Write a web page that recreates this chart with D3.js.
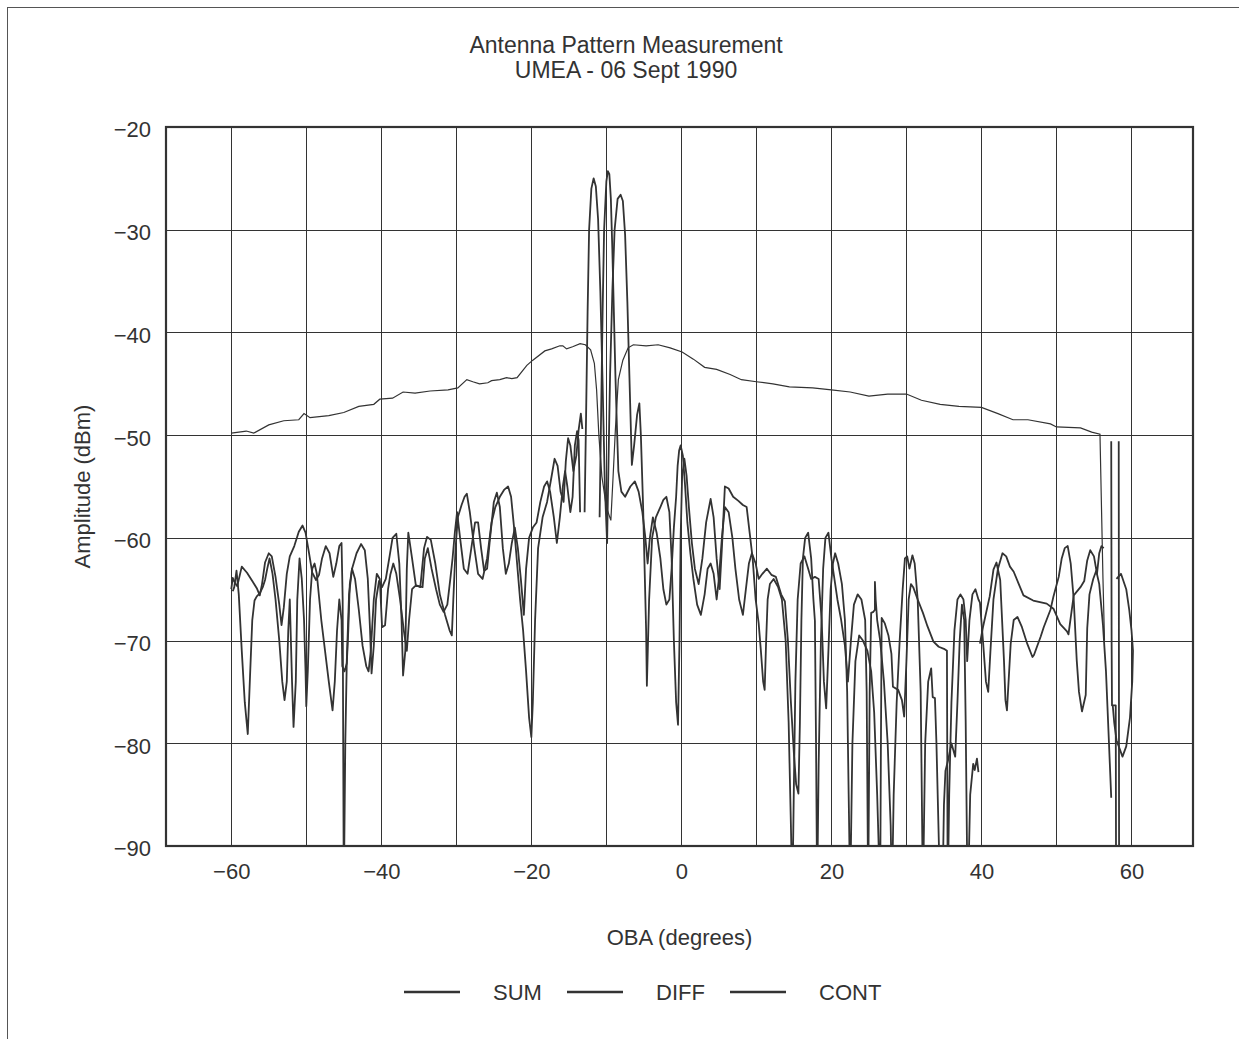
<!DOCTYPE html>
<html>
<head>
<meta charset="utf-8">
<script src="https://cdn.jsdelivr.net/npm/d3@7"></script>
<style>
  body { margin: 0; background: #fff; }
  text { font-family: "Liberation Sans", Arial, sans-serif; fill: #333; }
</style>
</head>
<body>
<div id="chart"></div>
<script>
// Plot constants
const WIDTH = 1239;
const HEIGHT = 1039;
const PLOT = { left: 166, top: 127, right: 1193, bottom: 846 };

// Data
const titleLines = ["Antenna Pattern Measurement", "UMEA - 06 Sept 1990"];
const xTicks = [-60, -40, -20, 0, 20, 40, 60];
const xGrid = [-60, -50, -40, -30, -20, -10, 0, 10, 20, 30, 40, 50, 60];
const yTicks = [-20, -30, -40, -50, -60, -70, -80, -90];
const seriesNames = ["SUM", "DIFF", "CONT"];

// [OBA degrees, amplitude dBm]; null = gap in the trace, values below -90 run off the plot
const sumData = [
  [-60.0, -65.0], [-59.8, -63.9], [-59.5, -64.4], [-59.2, -64.7], [-58.6, -62.8], [-57.9, -63.4],
  [-57.2, -64.2], [-56.6, -64.9], [-56.2, -65.6], [-55.9, -64.5], [-55.5, -62.4], [-55.0, -61.5],
  [-54.6, -61.8], [-54.1, -63.8], [-53.6, -66.5], [-53.3, -68.5], [-53.0, -66.8], [-52.6, -63.5],
  [-52.2, -61.8], [-51.6, -60.8], [-51.0, -59.4], [-50.5, -58.8], [-50.1, -59.5], [-49.7, -61.2],
  [-49.2, -63.4], [-48.7, -64.1], [-48.3, -63.6], [-47.9, -62.0], [-47.4, -60.8], [-46.9, -61.5],
  [-46.4, -63.8], [-46.0, -62.5], [-45.6, -60.8], [-45.3, -60.5], [-45.15, -66], [-45.0, -95],
  [-44.8, -80], [-44.6, -72], [-44.3, -65.5], [-43.9, -63.0], [-43.3, -61.5], [-42.7, -60.6],
  [-42.2, -61.2], [-41.8, -64], [-41.5, -69], [-41.3, -73.2], [-41.0, -70.5], [-40.7, -66],
  [-40.3, -64.2], [-39.9, -64.8], [-39.4, -64.0], [-38.9, -61.8], [-38.5, -60.0], [-38.0, -59.6],
  [-37.6, -62.5], [-37.3, -68], [-37.1, -73.4], [-36.8, -71], [-36.6, -63], [-36.4, -59.5],
  [-35.9, -62.0], [-35.4, -64.6], [-34.8, -64.8], [-34.3, -61], [-33.9, -59.9], [-33.4, -60.2],
  [-32.8, -62.5], [-32.2, -65.5], [-31.5, -67.5], [-30.9, -69.0], [-30.6, -69.5], [-30.4, -66],
  [-30.1, -61], [-29.8, -58], [-29.3, -56.8], [-28.9, -56.0], [-28.6, -55.7], [-28.2, -57.5],
  [-27.6, -61], [-27.1, -63.5], [-26.5, -64], [-25.9, -62], [-25.3, -58.5], [-24.8, -57],
  [-24.2, -56], [-23.6, -55.3], [-23.1, -55.0], [-22.7, -56], [-22.3, -59], [-21.9, -62.5],
  [-21.5, -66], [-21.1, -69], [-20.7, -73], [-20.3, -77.5], [-20.0, -79.4], [-19.8, -76],
  [-19.5, -68], [-19.1, -61], [-18.5, -58], [-17.9, -56.5], [-17.3, -54], [-16.9, -52.3],
  [-16.5, -53], [-16.1, -55.5], [-15.7, -56.5], [-15.4, -52.5], [-15.1, -50.3], [-14.8, -51],
  [-14.4, -53.5], [-14.0, -52], [-13.7, -49.5], [-13.4, -47.9], [-13.2, -49.4],
  null,
  [-10.9, -58], [-10.7, -48], [-10.5, -38], [-10.3, -30], [-10.0, -25.3], [-9.8, -24.3],
  [-9.6, -24.6], [-9.4, -27], [-9.2, -32], [-9.0, -38], [-8.8, -44], [-8.6, -49],
  [-8.4, -53.5], [-8.0, -55.5], [-7.5, -56], [-6.8, -55], [-6.2, -54.5], [-5.7, -55.5],
  [-5.2, -57.5], [-4.8, -60], [-4.5, -62.5], [-4.2, -60], [-3.8, -58], [-3.3, -59.5],
  [-2.8, -62], [-2.4, -65], [-2.0, -66.5], [-1.6, -66], [-1.3, -63], [-1.0, -59],
  [-0.7, -56], [-0.5, -53], [-0.3, -51.5], [-0.1, -51.0], [0.2, -52], [0.5, -55],
  [0.8, -58.5], [1.2, -61.5], [1.6, -64], [2.1, -66.5], [2.6, -67.5], [3.1, -65.5],
  [3.5, -63], [3.9, -62.5], [4.3, -63.5], [4.7, -66], [5.0, -64], [5.4, -60],
  [5.8, -57], [6.3, -57.5], [6.8, -60], [7.2, -63], [7.7, -66], [8.2, -67.5],
  [8.6, -65], [9.0, -62.5], [9.4, -61.5], [9.9, -62.5], [10.3, -64], [10.8, -63.5],
  [11.4, -63], [12.0, -63.6], [12.6, -63.8], [13.3, -65.5], [13.8, -66.2], [14.2, -70],
  [14.6, -76], [15.0, -81], [15.3, -84], [15.6, -84.9], [15.8, -78], [16.0, -68],
  [16.2, -62], [16.5, -60], [16.9, -59.5], [17.3, -62], [17.6, -66], [17.8, -68.1],
  [17.95, -80], [18.1, -95], [18.3, -82], [18.6, -70], [18.9, -63], [19.2, -60],
  [19.6, -59.5], [20.0, -62], [20.4, -64], [20.8, -66], [21.3, -68], [21.8, -70.5],
  [22.2, -74], [22.6, -70], [23.0, -66.5], [23.5, -65.5], [24.0, -66], [24.5, -68],
  [24.7, -75], [24.9, -95], [25.1, -75], [25.3, -67.3], [25.6, -67.2], [25.8, -67],
  [25.8, -64.3], [25.9, -66], [26.1, -68], [26.5, -70], [27.0, -74], [27.5, -80],
  [27.9, -88], [28.07, -95], [28.3, -85], [28.7, -76], [29.1, -70], [29.5, -65],
  [29.8, -62], [30.1, -61.8], [30.4, -63], [30.8, -61.7], [31.1, -62.5], [31.5, -66],
  [31.9, -75], [32.2, -95], [32.5, -80], [32.9, -74], [33.3, -72.7], [33.5, -75.5],
  [33.8, -75.6], [34.0, -80], [34.4, -92], [34.8, -95], [35.0, -86], [35.2, -82.7],
  [35.6, -81.5], [36.0, -80], [36.5, -81.3], [36.8, -76], [37.1, -70], [37.4, -66.5],
  [37.7, -68], [37.9, -78], [38.1, -92], [38.2, -95], [38.5, -85], [38.9, -82],
  [39.1, -82.6], [39.4, -81.5], [39.6, -82.8],
  null,
  [39.8, -70.3], [40.2, -68.7], [41.1, -65.7], [41.6, -63.1], [42.0, -62.4], [42.5, -64.1],
  [43.0, -71.9], [43.2, -75.8], [43.4, -76.8], [43.9, -70.3], [44.3, -68.0], [44.8, -67.7],
  [45.4, -68.7], [46.1, -70.3], [46.8, -71.6], [47.0, -71.4], [47.4, -70.6], [47.9, -69.6],
  [48.3, -68.7], [49.2, -67.0], [49.6, -65.7], [50.3, -63.8], [50.7, -62], [51.1, -61],
  [51.5, -60.8], [51.9, -62.5], [52.3, -66], [52.7, -71.9], [53.0, -75], [53.4, -76.9],
  [53.9, -75.3], [54.1, -68.8], [54.4, -65.5], [54.9, -64], [55.3, -63.2], [55.7, -64.5],
  [56.2, -68.5], [56.6, -73], [57.0, -80], [57.3, -85.3],
  null,
  [57.3, -50.6], [57.35, -70], [57.4, -76.3], [57.9, -76.3], [57.95, -95],
  null,
  [58.3, -50.6], [58.35, -95]
];

const diffData = [
  [-59.8, -65.2], [-59.6, -64.8], [-59.3, -63.2], [-59.0, -65.5], [-58.6, -71], [-58.2, -76],
  [-57.8, -79.1], [-57.5, -73.5], [-57.2, -68], [-56.9, -66.1], [-56.6, -65.7], [-56.2, -65.4],
  [-55.8, -64.8], [-55.5, -64.1], [-55.2, -63.0], [-54.9, -62.0], [-54.5, -63.5], [-54.1, -66],
  [-53.6, -70], [-53.2, -74], [-52.9, -75.8], [-52.6, -74], [-52.4, -69], [-52.2, -66],
  [-51.9, -74], [-51.7, -78.4], [-51.4, -74], [-51.2, -66], [-50.9, -62], [-50.6, -64],
  [-50.3, -68], [-50.1, -73], [-50.0, -76.4], [-49.8, -73], [-49.5, -66], [-49.2, -63],
  [-48.9, -62.5], [-48.6, -63.5], [-48.4, -65], [-48.0, -68], [-47.5, -71], [-47.0, -74],
  [-46.5, -76.8], [-46.2, -74], [-45.9, -69], [-45.6, -66], [-45.3, -68], [-45.2, -72.5],
  [-44.9, -73], [-44.6, -72.2], [-44.4, -69], [-44.2, -64.5], [-43.9, -63], [-43.5, -64],
  [-43.0, -67], [-42.5, -70.5], [-42.0, -72.5], [-41.7, -73], [-41.4, -71], [-41.0, -66],
  [-40.6, -63.5], [-40.2, -64.0], [-39.9, -68.7], [-39.5, -68.5], [-39.1, -65], [-38.8, -63.6],
  [-38.4, -62.5], [-38.0, -63.5], [-37.5, -66], [-37.0, -69], [-36.6, -71], [-36.3, -68],
  [-35.9, -65], [-35.5, -64.7], [-35.0, -64.7], [-34.5, -64.8], [-34.2, -62], [-33.8, -61.0],
  [-33.3, -63], [-32.7, -65], [-32.2, -66.5], [-31.7, -67.2], [-31.2, -66.5], [-30.8, -64],
  [-30.5, -62], [-30.2, -59.5], [-29.9, -57.5], [-29.5, -60], [-29.0, -63], [-28.5, -63.5],
  [-28.0, -61], [-27.5, -58.5], [-27.1, -58.5], [-26.7, -61], [-26.3, -63.2], [-25.9, -63.0],
  [-25.5, -60], [-25.0, -56.5], [-24.6, -55.6], [-24.2, -57], [-23.8, -61], [-23.4, -63.5],
  [-23.0, -62.5], [-22.6, -60.5], [-22.2, -59], [-21.8, -61], [-21.4, -64], [-21.0, -67.5],
  [-20.7, -63], [-20.3, -60], [-19.8, -59], [-19.3, -58.5], [-18.8, -56.5], [-18.3, -55],
  [-17.9, -54.5], [-17.5, -55.5], [-17.0, -58], [-16.6, -60.5], [-16.2, -58], [-15.8, -55],
  [-15.5, -53.5], [-15.2, -55], [-14.8, -57.5], [-14.5, -56], [-14.2, -51], [-13.9, -49.6],
  [-13.7, -50.5], [-13.5, -57.5],
  null,
  [-12.9, -57.5], [-12.7, -48], [-12.5, -38], [-12.3, -30], [-12.0, -26], [-11.7, -25.0],
  [-11.4, -25.8], [-11.1, -29], [-10.8, -36], [-10.5, -45], [-10.2, -55], [-9.9, -60.5],
  [-9.7, -52], [-9.5, -44], [-9.2, -36], [-8.9, -30], [-8.5, -27], [-8.1, -26.6],
  [-7.8, -27.2], [-7.5, -30.5], [-7.2, -37], [-6.9, -45], [-6.6, -52.9], [-6.3, -51],
  [-5.9, -48], [-5.6, -46.9], [-5.4, -50], [-5.1, -57], [-4.9, -63], [-4.7, -69],
  [-4.6, -74.4], [-4.3, -66], [-3.9, -60], [-3.4, -58], [-2.8, -57], [-2.4, -56.3],
  [-2.0, -56.0], [-1.6, -57.5], [-1.3, -62], [-1.0, -70], [-0.7, -76], [-0.45, -78.2],
  [-0.25, -70], [-0.1, -60], [0.1, -54], [0.4, -52.3], [0.7, -54], [1.0, -57],
  [1.4, -60.5], [1.8, -63], [2.3, -64.5], [2.8, -62], [3.3, -58.5], [3.9, -56.2],
  [4.3, -58], [4.7, -62], [5.1, -65], [5.4, -61], [5.8, -55.0], [6.3, -55.2],
  [6.9, -56], [7.6, -56.4], [8.2, -56.8], [8.7, -57.0], [9.1, -59.5], [9.5, -62],
  [9.9, -66], [10.3, -68.3], [10.6, -71], [10.9, -74], [11.1, -74.8], [11.3, -70],
  [11.5, -66], [11.8, -64.5], [12.3, -64], [12.9, -64.8], [13.4, -66], [13.9, -70],
  [14.3, -78], [14.6, -88], [14.8, -95], [15.0, -84], [15.2, -74], [15.5, -66],
  [15.9, -62.5], [16.4, -61.8], [16.9, -63], [17.3, -64], [17.8, -63.8], [18.3, -64],
  [18.7, -68], [19.0, -74], [19.3, -76.6], [19.6, -71], [19.9, -65], [20.2, -62.5],
  [20.5, -61.5], [20.9, -62.5], [21.4, -64.5], [21.8, -68], [22.1, -75], [22.3, -85],
  [22.5, -95], [22.8, -80], [23.2, -72], [23.7, -69.5], [24.2, -70], [24.8, -71],
  [25.3, -73], [25.7, -77], [26.1, -85], [26.5, -95], [26.6, -80], [26.7, -67.8],
  [27.1, -68.3], [27.6, -69.5], [28.0, -71.3], [28.2, -74.5], [28.9, -74.8], [29.4, -75.8],
  [29.7, -77.4], [30.0, -72], [30.3, -66], [30.6, -64.5], [30.9, -64.8], [31.5, -66],
  [32.2, -67.3], [32.8, -68.6], [33.6, -70.1], [34.3, -70.6], [35.0, -70.8], [35.4, -71.0],
  [35.5, -95], [35.7, -85], [36.0, -76], [36.4, -69], [36.8, -66], [37.2, -65.5],
  [37.6, -66], [37.9, -68], [38.1, -72], [38.4, -68], [38.8, -65.5], [39.2, -65],
  [39.6, -66], [39.8, -66.3], [40.2, -70], [40.6, -74], [40.9, -75], [41.2, -71],
  [41.6, -66], [42.2, -63], [42.8, -61.5], [43.3, -61.8], [43.8, -62.8], [44.3, -63.3],
  [45.2, -64.9], [45.6, -65.6], [46.9, -66.1], [48.7, -66.4], [49.6, -66.9], [50.5, -68.4],
  [51.4, -69.1], [51.6, -69.4], [52.3, -65.6], [53.2, -64.8], [53.7, -64.2], [54.1, -62.2],
  [54.5, -61.2], [55.0, -61.8], [55.4, -63.5], [55.7, -61.5], [56.0, -60.8], [56.3, -61.0],
  null,
  [58.0, -64.0], [58.6, -63.5], [59.3, -65], [59.7, -67], [60.0, -69], [60.2, -71],
  [60.1, -74], [59.8, -77.5], [59.3, -80.3], [58.8, -81.3], [58.4, -80.5], [58.0, -79.7],
  [57.7, -78], [57.5, -76.3]
];

const contData = [
  [-60, -49.8], [-58, -49.6], [-57, -49.8], [-55, -49.0], [-53, -48.6], [-51, -48.5],
  [-50.3, -47.9], [-49.5, -48.3], [-47, -48.1], [-45, -47.8], [-43, -47.2], [-41, -47.0],
  [-40.2, -46.5], [-38.5, -46.4], [-37.1, -45.8], [-35.5, -45.9], [-33.5, -45.7],
  [-31.1, -45.6], [-29.8, -45.4], [-28.6, -44.6], [-27.8, -44.8], [-26.9, -45.0],
  [-25.8, -44.9], [-25.3, -44.7], [-24.2, -44.6], [-23.3, -44.4], [-22.6, -44.5],
  [-21.9, -44.4], [-20.6, -43.2], [-19.8, -42.7], [-18.2, -41.8], [-17.3, -41.6],
  [-16.2, -41.3], [-15.8, -41.3], [-15.3, -41.6], [-14.5, -41.4], [-13.5, -41.1],
  [-12.8, -41.2], [-12.1, -41.7], [-11.6, -43], [-11.3, -45.6], [-11.0, -50],
  [-10.6, -54], [-10.0, -57], [-9.4, -58.3], [-9.1, -54], [-8.8, -49.5],
  [-8.4, -44.6], [-7.8, -42.7], [-7.1, -41.5], [-6.4, -41.2], [-4.7, -41.3], [-3.1, -41.2],
  [-1.5, -41.5], [0.1, -41.9], [1.6, -42.6], [3.1, -43.4], [4.7, -43.6], [6.5, -44.1],
  [8.0, -44.6], [10.0, -44.8], [12.2, -45.0], [14.4, -45.3], [17.5, -45.4],
  [20.0, -45.6], [22.5, -45.8], [25, -46.2], [27.5, -46.0], [30, -46.0], [32, -46.6],
  [34.5, -47.0], [37, -47.2], [40, -47.3], [42.2, -47.9], [44.2, -48.5], [46.2, -48.5],
  [49.2, -48.9], [50, -49.2], [53.2, -49.3], [54.7, -49.7], [55.8, -49.9], [56.0, -57],
  [56.2, -64], [56.4, -70]
];

const svg = d3.select("#chart")
  .append("svg")
  .attr("width", WIDTH)
  .attr("height", HEIGHT);

// outer frame (cut by the picture edge on right and bottom)
svg.append("rect")
  .attr("x", 7.5).attr("y", 7.5)
  .attr("width", 1400).attr("height", 1200)
  .attr("fill", "none")
  .attr("stroke", "#555")
  .attr("stroke-width", 1);

// scales
const x = d3.scaleLinear().domain([-68.7, 68.2]).range([PLOT.left, PLOT.right]);
const y = d3.scaleLinear().domain([-90, -20]).range([PLOT.bottom, PLOT.top]);

// title
svg.append("g")
  .selectAll("text")
  .data(titleLines)
  .join("text")
  .attr("x", 626)
  .attr("y", (d, i) => 53 + i * 25)
  .attr("text-anchor", "middle")
  .attr("font-size", "23px")
  .text(d => d);

// grid
const grid = svg.append("g").attr("stroke", "#333").attr("stroke-width", 1);
grid.selectAll(".vgrid")
  .data(xGrid)
  .join("line")
  .attr("class", "vgrid")
  .attr("x1", d => Math.round(x(d)) + 0.5).attr("x2", d => Math.round(x(d)) + 0.5)
  .attr("y1", PLOT.top).attr("y2", PLOT.bottom);
grid.selectAll(".hgrid")
  .data(yTicks)
  .join("line")
  .attr("class", "hgrid")
  .attr("x1", PLOT.left).attr("x2", PLOT.right)
  .attr("y1", d => Math.round(y(d)) + 0.5).attr("y2", d => Math.round(y(d)) + 0.5);

// series
svg.append("clipPath").attr("id", "clip")
  .append("rect")
  .attr("x", PLOT.left).attr("y", PLOT.top)
  .attr("width", PLOT.right - PLOT.left).attr("height", PLOT.bottom - PLOT.top);

const line = d3.line()
  .defined(d => d !== null)
  .x(d => x(d[0]))
  .y(d => y(d[1]));
const lines = svg.append("g").attr("clip-path", "url(#clip)");
[sumData, diffData].forEach(s => {
  lines.append("path")
    .datum(s)
    .attr("d", line)
    .attr("fill", "none")
    .attr("stroke", "#333")
    .attr("stroke-width", 1.8)
    .attr("stroke-linejoin", "round");
});
lines.append("path")
  .datum(contData)
  .attr("d", line)
  .attr("fill", "none")
  .attr("stroke", "#333")
  .attr("stroke-width", 1.2);

// plot frame
svg.append("rect")
  .attr("x", PLOT.left).attr("y", PLOT.top)
  .attr("width", PLOT.right - PLOT.left).attr("height", PLOT.bottom - PLOT.top)
  .attr("fill", "none")
  .attr("stroke", "#333")
  .attr("stroke-width", 2.2);

// axes
const xAxis = d3.axisBottom(x).tickValues(xTicks).tickSize(0).tickPadding(17);
svg.append("g")
  .attr("transform", `translate(0,${PLOT.bottom})`)
  .call(xAxis)
  .call(g => g.select(".domain").remove())
  .selectAll("text")
  .attr("font-size", "22px")
  .attr("font-family", "Liberation Sans, Arial, sans-serif")
  .attr("fill", "#333");

const yAxis = d3.axisLeft(y).tickValues(yTicks).tickSize(0).tickPadding(15);
svg.append("g")
  .attr("transform", `translate(${PLOT.left},0)`)
  .call(yAxis)
  .call(g => g.select(".domain").remove())
  .selectAll("text")
  .attr("font-size", "22px")
  .attr("font-family", "Liberation Sans, Arial, sans-serif")
  .attr("fill", "#333")
  .attr("dy", "0.45em");

// axis labels
svg.append("text")
  .attr("x", (PLOT.left + PLOT.right) / 2)
  .attr("y", 945)
  .attr("text-anchor", "middle")
  .attr("font-size", "22px")
  .text("OBA (degrees)");

svg.append("text")
  .attr("transform", `translate(90,${(PLOT.top + PLOT.bottom) / 2}) rotate(-90)`)
  .attr("text-anchor", "middle")
  .attr("font-size", "22px")
  .text("Amplitude (dBm)");

// legend
const legendX = [404, 567, 730];
const legend = svg.append("g")
  .selectAll("g")
  .data(seriesNames)
  .join("g")
  .attr("transform", (d, i) => `translate(${legendX[i]},992)`);
legend.append("line")
  .attr("x1", 0).attr("x2", 56)
  .attr("stroke", "#333")
  .attr("stroke-width", 2.5);
legend.append("text")
  .attr("x", 89)
  .attr("y", 8)
  .attr("font-size", "22px")
  .text(d => d);
</script>
</body>
</html>
